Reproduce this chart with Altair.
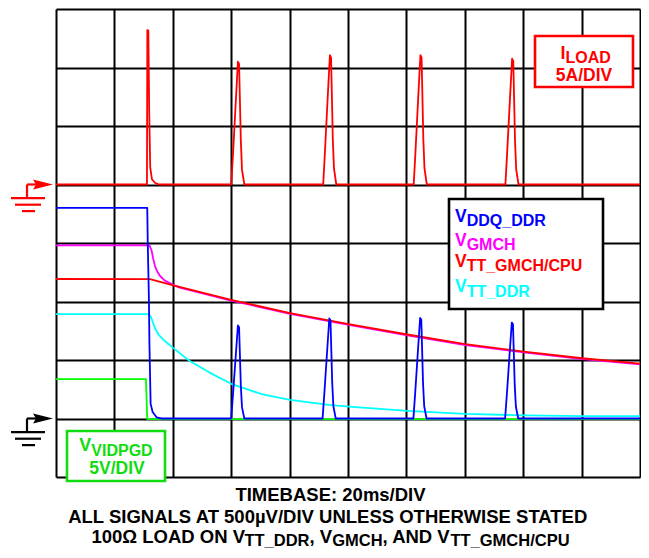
import altair as alt
import pandas as pd

# ---------------- data: time in ms (20 ms/div), level in screen divisions (8 div tall) ----------------
iload_t = [0, 31.15, 31.28, 31.62, 31.93, 32.27, 32.85, 33.87, 35.23,
           60.0, 60.6, 61.5, 62.3, 62.7, 63.3, 63.7, 64.5,
           91.5, 92.1, 93.0, 93.8, 94.2, 94.8, 95.2, 96.0,
           122.5, 123.1, 124.0, 124.8, 125.2, 125.8, 126.2, 127.0,
           153.9, 154.5, 155.4, 156.2, 156.6, 157.2, 157.6, 158.4, 200]
iload_v = [5.0, 5.0, 7.64, 7.63, 6.22, 5.29, 5.09, 5.03, 5.0,
           5.0, 5.5, 6.35, 7.10, 7.06, 5.75, 5.25, 5.0,
           5.0, 5.55, 6.44, 7.21, 7.17, 5.77, 5.27, 5.0,
           5.0, 5.55, 6.44, 7.21, 7.17, 5.77, 5.27, 5.0,
           5.0, 5.54, 6.40, 7.15, 7.11, 5.75, 5.26, 5.0, 5.0]

blue_t = [0, 31.25, 31.42, 31.83, 32.0, 32.41, 33.09, 34.45, 36.15,
          60.0, 60.6, 61.5, 62.3, 62.7, 63.3, 63.7, 64.5,
          91.3, 91.9, 92.8, 93.6, 94.0, 94.6, 95.0, 95.8,
          122.4, 123.0, 123.9, 124.7, 125.1, 125.7, 126.1, 126.9,
          153.8, 154.4, 155.3, 156.1, 156.5, 157.1, 157.5, 158.3, 200]
blue_v = [4.60, 4.60, 4.02, 3.00, 2.27, 1.25, 1.11, 1.02, 1.0,
          1.0, 1.40, 2.03, 2.59, 2.56, 1.56, 1.19, 1.0,
          1.0, 1.43, 2.11, 2.71, 2.68, 1.60, 1.21, 1.0,
          1.0, 1.43, 2.12, 2.72, 2.69, 1.60, 1.21, 1.0,
          1.0, 1.41, 2.07, 2.64, 2.61, 1.57, 1.20, 1.0, 1.0]

mag_t = [0, 32.0, 32.75, 33.29, 33.87, 34.55, 35.57, 37.27, 38.98, 40.68, 42.38,
         59.98, 80.16, 100.24, 120.32, 140.18, 160.17, 180.24, 200]
mag_v = [3.96, 3.96, 3.87, 3.73, 3.61, 3.525, 3.44, 3.356, 3.314, 3.271, 3.237,
         3.015, 2.79, 2.60, 2.42, 2.255, 2.13, 2.015, 1.925]

vtt_t = [0, 32.17, 39.55, 59.98, 80.16, 100.24, 120.32, 140.18, 160.17, 180.24, 200]
vtt_v = [3.385, 3.381, 3.283, 3.029, 2.802, 2.615, 2.436, 2.27, 2.145, 2.03, 1.937]

cyan_t = [0, 31.66, 32.51, 33.87, 35.23, 36.70, 40.10, 45.78, 52.59, 59.98, 70.74,
          80.16, 93.44, 100.24, 120.32, 140.18, 160.17, 180.24, 200]
cyan_v = [2.785, 2.785, 2.737, 2.547, 2.424, 2.351, 2.208, 1.983, 1.785, 1.593, 1.412,
          1.319, 1.234, 1.203, 1.131, 1.080, 1.054, 1.042, 1.039]

green_t = [0, 30.8, 31.25, 200]
green_v = [1.673, 1.673, 0.99, 0.99]

series_names = ["VVIDPGD", "VTT_DDR", "VGMCH", "VTT_GMCH/CPU", "VDDQ_DDR", "ILOAD"]
series_t = [green_t, cyan_t, mag_t, vtt_t, blue_t, iload_t]
series_v = [green_v, cyan_v, mag_v, vtt_v, blue_v, iload_v]

# ---------------- layout ----------------
X0, Y0, W, H = 56, 9, 584, 468   # plot origin on the page, plot size
colors = ["#00ff00", "#00ffff", "#ff00ff", "#ff0000", "#0000ff", "#ff0000"]
GREEN_TXT = "#10dc10"
FONT = "Liberation Sans"


def px_t(x):
    return (x - X0) * 200.0 / W


def px_v(y):
    return (Y0 + H - y) * 8.0 / H


ADV = {' ': 278, ',': 278, '/': 278, ':': 333, '_': 556, 'µ': 576, 'Ω': 768,
       'A': 722, 'B': 722, 'C': 722, 'D': 722, 'E': 667, 'G': 778, 'H': 722, 'I': 278,
       'L': 611, 'M': 833, 'N': 722, 'O': 778, 'P': 667, 'Q': 778, 'R': 722, 'S': 667,
       'T': 611, 'U': 722, 'V': 667, 'W': 944, 'm': 889, 's': 556}
for d in "0123456789":
    ADV[d] = 556


def tw(s, fs):
    return sum(ADV.get(c, 600) for c in s) * fs / 1000.0


xs = alt.Scale(domain=[0, 200], nice=False, zero=False)
ys = alt.Scale(domain=[0, 8], nice=False, zero=False)
xax = alt.Axis(values=list(range(0, 201, 20)), grid=True, gridColor="black", gridWidth=2,
               gridOpacity=1, labels=False, ticks=False, domain=False, title=None)
yax = alt.Axis(values=list(range(0, 9)), grid=True, gridColor="black", gridWidth=2,
               gridOpacity=1, labels=False, ticks=False, domain=False, title=None)
X = alt.X("t:Q", scale=xs, axis=xax)
Y = alt.Y("v:Q", scale=ys, axis=yax)

layers = []
for name, t, v, col in zip(series_names, series_t, series_v, colors):
    df = pd.DataFrame({"t": t, "v": v, "i": list(range(len(t)))})
    layers.append(alt.Chart(df).mark_line(color=col, strokeWidth=1.8, strokeJoin="round").encode(
        x=X, y=Y, order="i:Q"))

# ---- ground symbols (red for I_LOAD level 5, black for level 1) ----
rows = []
pts = []
for level, col in [(5.0, "#ff0000"), (1.0, "#000000")]:
    ly = Y0 + H - level * H / 8.0
    segs = [(27, 40, ly, ly), (27, 27, ly, ly + 13.7),
            (11, 45, ly + 13.7, ly + 13.7), (15, 41, ly + 20.2, ly + 20.2), (22, 35, ly + 26.6, ly + 26.6)]
    for a, b, c, d in segs:
        rows.append({"t": px_t(a), "t2": px_t(b), "v": px_v(c), "v2": px_v(d), "col": col})
    pts.append({"t": px_t(43), "v": level, "col": col})

gdf = pd.DataFrame(rows)
layers.append(alt.Chart(gdf).mark_rule(strokeWidth=2.2, clip=False).encode(
    x=X, x2="t2:Q", y=Y, y2="v2:Q", color=alt.Color("col:N", scale=None)))
layers.append(alt.Chart(pd.DataFrame(pts)).mark_point(
    shape="M-1,-0.5L1,0L-1,0.5L-0.7,0Z", size=400, filled=True, opacity=1, clip=False).encode(
    x=X, y=Y, color=alt.Color("col:N", scale=None)))

# ---- boxes ----
boxes = pd.DataFrame({
    "t": [px_t(449), px_t(535), px_t(67)],
    "t2": [px_t(603), px_t(633), px_t(165)],
    "v": [px_v(199), px_v(36), px_v(431)],
    "v2": [px_v(309), px_v(87), px_v(481)],
    "col": ["#000000", "#ff0000", GREEN_TXT],
})
layers.append(alt.Chart(boxes).mark_rect(fill="white", strokeWidth=2.6, clip=False).encode(
    x=X, x2="t2:Q", y=Y, y2="v2:Q", stroke=alt.Stroke("col:N", scale=None)))

# ---- text ----
texts = []


def add(s, x, y, fs, col):
    texts.append({"t": px_t(x), "v": px_v(y), "text": s, "fs": fs, "col": col})


# legend
LX, VF, SF = 455, 17.5, 16
leg = [("DDQ_DDR", "#0000ff", 221.7), ("GMCH", "#ff00ff", 245.5),
       ("TT_GMCH/CPU", "#ff0000", 266.5), ("TT_DDR", "#00ffff", 292.0)]
for sub, col, base in leg:
    add("V", LX, base, VF, col)
    add(sub, LX + tw("V", VF), base + 4.5, SF, col)

# I_LOAD box
add("I", 560.5, 58.5, 18, "#ff0000")
add("LOAD", 560.5 + tw("I", 18), 62.7, 16, "#ff0000")
add("5A/DIV", 584 - tw("5A/DIV", 17.5) / 2, 81, 17.5, "#ff0000")

# V_VIDPGD box
add("V", 79.3, 450.7, 18, GREEN_TXT)
add("VIDPGD", 79.3 + tw("V", 18), 456, 16, GREEN_TXT)
add("5V/DIV", 117 - tw("5V/DIV", 17.5) / 2, 474, 17.5, GREEN_TXT)

# bottom captions
CX, MF, BF = 330.5, 18.5, 16.5
l1 = "TIMEBASE: 20ms/DIV"
l2 = "ALL SIGNALS AT 500µV/DIV UNLESS OTHERWISE STATED"
add(l1, CX - tw(l1, MF) / 2, 500.5, MF, "#000000")
add(l2, CX - tw(l2, MF) / 2, 523.0, MF, "#000000")
segs3 = [("100Ω LOAD ON V", False), ("TT_DDR", True), (", V", False), ("GMCH", True),
         (", AND V", False), ("TT_GMCH/CPU", True)]
total = sum(tw(s, BF if sb else MF) for s, sb in segs3)
x = CX - total / 2
for s, sb in segs3:
    fs = BF if sb else MF
    add(s, x, 546.3 if sb else 543.3, fs, "#000000")
    x += tw(s, fs)

tdf = pd.DataFrame(texts)
layers.append(alt.Chart(tdf).mark_text(align="left", baseline="alphabetic", font=FONT,
                                       fontWeight="bold", clip=False).encode(
    x=X, y=Y, text="text:N", size=alt.Size("fs:Q", scale=None),
    color=alt.Color("col:N", scale=None)))

chart = alt.layer(*layers).properties(
    width=W, height=H,
    padding={"left": X0 - 8, "top": Y0 - 8, "right": 1, "bottom": 73},
    autosize=alt.AutoSizeParams(type="none"),
).configure_view(stroke=None)

chart.save("out.html", embed_options={"renderer": "svg", "actions": False})
